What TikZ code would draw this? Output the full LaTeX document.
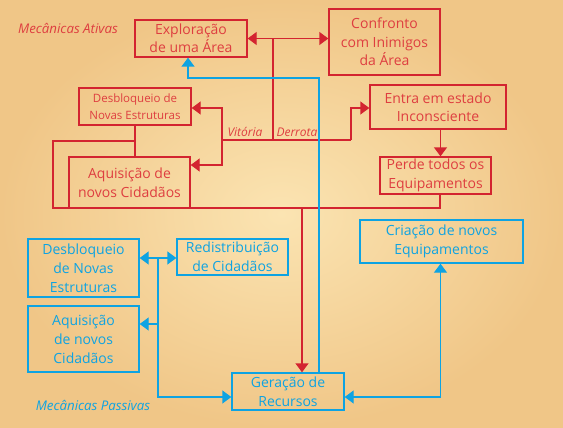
\documentclass[tikz,border=0pt]{standalone}
\usepackage{fontspec}
\setmainfont{Open Sans}
\usetikzlibrary{arrows.meta, positioning, calc}

\definecolor{mecred}{RGB}{211,36,48}
\definecolor{mecredtxt}{RGB}{222,62,64}
\definecolor{mecblue}{RGB}{14,163,226}
\definecolor{parchin}{RGB}{251,228,178}
\definecolor{parchout}{RGB}{240,198,135}

\tikzset{
    >={Triangle[length=9pt,width=13pt]},
    redbox/.style={draw=mecred, line width=1.4pt, text=mecredtxt, align=center, inner sep=1pt, font=\fontsize{14}{18.5}\selectfont},
    bluebox/.style={draw=mecblue, line width=1.4pt, text=mecblue, align=center, inner sep=1pt, font=\fontsize{14}{19}\selectfont},
    redline/.style={draw=mecred, line width=1.4pt},
    blueline/.style={draw=mecblue, line width=1.4pt},
    mectitle/.style={font=\itshape\fontsize{13.3}{15}\selectfont}
}

\begin{document}
\begin{tikzpicture}[x=1pt, y=-1pt]
    % Background
    \fill[inner color=parchin, outer color=parchout] (0,0) rectangle (563,428);
    \useasboundingbox (0,0) rectangle (563,428);

    % Active mechanics
    \node[mectitle, text=mecredtxt] (ativas) at (68,28) {Mecânicas Ativas};
    \node[redbox, minimum width=112pt, minimum height=37pt] (explor) at (191,38.5) {Exploração\\de uma Área};
    \node[redbox, minimum width=111pt, minimum height=66pt] (confr) at (384.5,42) {Confronto\\com Inimigos\\da Área};
    \node[redbox, minimum width=112pt, minimum height=37pt, font=\fontsize{11.5}{17}\selectfont] (desbR) at (135,106.5) {Desbloqueio de\\Novas Estruturas};
    \node[redbox, minimum width=121pt, minimum height=51pt] (aquiR) at (129.5,182.5) {Aquisição de\\novos Cidadãos};
    \node[redbox, minimum width=136pt, minimum height=44pt] (entra) at (438,107) {Entra em estado\\Inconsciente};
    \node[redbox, minimum width=111pt, minimum height=37pt] (perde) at (435.5,175.5) {Perde todos os\\Equipamentos};

    % Passive mechanics
    \node[mectitle, text=mecblue] (passivas) at (93,405) {Mecânicas Passivas};
    \node[bluebox, minimum width=111pt, minimum height=58pt] (desbB) at (83.5,268) {Desbloqueio\\de Novas\\Estruturas};
    \node[bluebox, minimum width=111pt, minimum height=66pt] (aquiB) at (83.5,339) {Aquisição\\de novos\\Cidadãos};
    \node[bluebox, minimum width=111pt, minimum height=36pt] (redis) at (232.5,257) {Redistribuição\\de Cidadãos};
    \node[bluebox, minimum width=163pt, minimum height=43pt] (cria) at (441.5,241.5) {Criação de novos\\Equipamentos};
    \node[bluebox, minimum width=112pt, minimum height=37pt] (gera) at (288,391.5) {Geração de\\Recursos};

    % Junctions
    \coordinate (topfork) at (273,140);
    \coordinate (vit) at (222,140);
    \coordinate (der) at (351,140);
    \coordinate (loopbl) at (53,208);
    \coordinate (loopj) at (135,141);
    \coordinate (down) at (302,208);
    \coordinate (back) at (319,78);
    \coordinate (bj) at (158,258);

    % Red connections
    \draw[redline, <->] (explor.east) -- (explor.east -| confr.west);
    \draw[redline] (topfork) -- (topfork |- explor.east);
    \draw[redline] (vit) -- (der);
    \draw[redline, ->] (vit) |- ([yshift=-1.5pt]desbR.east);
    \draw[redline, ->] (vit) |- ([yshift=17.5pt]aquiR.east);
    \draw[redline, ->] (der) |- ([yshift=-1pt]entra.west);
    \draw[redline, ->] ([xshift=2.5pt]entra.south) -- ([xshift=2.5pt]entra.south |- perde.north);
    \draw[redline] ([xshift=4.5pt]perde.south) |- (loopbl) |- (loopj);
    \draw[redline] (desbR.south) -- (desbR.south |- aquiR.north);
    \draw[redline, ->] (down) -- (down |- gera.north);
    \node[mectitle, text=mecredtxt, anchor=south, font=\itshape\fontsize{12}{14}\selectfont] (vitlbl) at (245,140) {Vitória};
    \node[mectitle, text=mecredtxt, anchor=south, font=\itshape\fontsize{12}{14}\selectfont] (derlbl) at (297,140) {Derrota};

    % Blue connections
    \draw[blueline, ->] (back |- gera.north) -- (back) -| ([xshift=-3pt]explor.south);
    \draw[blueline, <->] ([yshift=-5.5pt]gera.east) -| ([xshift=-1pt]cria.south);
    \draw[blueline, <->] (desbB.east |- bj) -- (redis.west |- bj);
    \draw[blueline, ->] (bj) |- ([yshift=-5.5pt]gera.west);
    \draw[blueline, ->] (bj |- aquiB.east) ++(0,-15) -- ([yshift=15pt]aquiB.east);
\end{tikzpicture}
\end{document}
